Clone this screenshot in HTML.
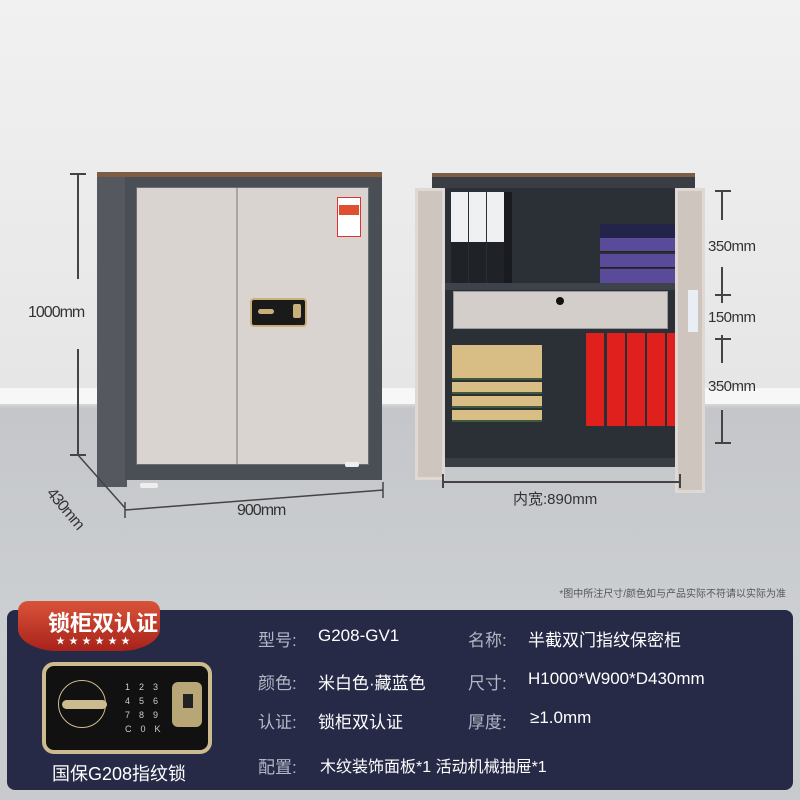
<!DOCTYPE html>
<html><head><meta charset="utf-8"><style>
*{margin:0;padding:0;box-sizing:border-box}
body{width:800px;height:800px;position:relative;overflow:hidden;font-family:"Liberation Sans","Noto Sans CJK SC",sans-serif;background:#c9cbce}
.a{position:absolute}
.t{position:absolute;white-space:nowrap}
</style></head><body>
<div class="a" style="left:0;top:0;width:800px;height:390px;background:linear-gradient(#f1f1f1,#e6e6e6)"></div>
<div class="a" style="left:0;top:388px;width:800px;height:18px;background:#f7f7f7;border-bottom:2px solid #d5d5d5"></div>
<div class="a" style="left:0;top:408px;width:800px;height:392px;background:linear-gradient(#c4c6c9,#cdd0d3 60%,#c8cacd)"></div>

<div class="a" style="left:97px;top:172px;width:285px;height:5px;background:#7d5d44"></div>
<div class="a" style="left:97px;top:177px;width:30px;height:310px;background:#55595f"></div>
<div class="a" style="left:125px;top:177px;width:257px;height:303px;background:#4a4e55"></div>
<div class="a" style="left:136px;top:187px;width:233px;height:278px;background:#d9d4cf;border:1px solid #6b6e72"></div>
<div class="a" style="left:236px;top:188px;width:2px;height:276px;background:#a9a5a0"></div>
<div class="a" style="left:337px;top:197px;width:24px;height:40px;background:#fff;border:1px solid #d33"></div>
<div class="a" style="left:339px;top:205px;width:20px;height:10px;background:#e05030"></div>
<div class="a" style="left:250px;top:298px;width:57px;height:29px;background:#1a1a1a;border:2px solid #c9b07a;border-radius:4px"></div>
<div class="a" style="left:258px;top:309px;width:16px;height:5px;background:#c9b07a;border-radius:3px"></div>
<div class="a" style="left:293px;top:304px;width:8px;height:14px;background:#c9b07a;border-radius:2px"></div>
<div class="a" style="left:140px;top:483px;width:18px;height:5px;background:#eee;border-radius:2px"></div>
<div class="a" style="left:345px;top:462px;width:14px;height:5px;background:#eee;border-radius:2px"></div>

<div class="a" style="left:77px;top:173px;width:2px;height:106px;background:#444"></div>
<div class="a" style="left:77px;top:349px;width:2px;height:106px;background:#444"></div>
<div class="a" style="left:70px;top:173px;width:16px;height:2px;background:#444"></div>
<div class="a" style="left:70px;top:454px;width:16px;height:2px;background:#444"></div>
<div class="t" style="left:28px;top:304px;font-size:16px;color:#333;letter-spacing:-1px">1000mm</div>
<svg class="a" style="left:0;top:0" width="800" height="800">
<line x1="78" y1="455" x2="125" y2="508" stroke="#444" stroke-width="1.5"/>
<line x1="125" y1="510" x2="383" y2="490" stroke="#444" stroke-width="1.5"/>
<line x1="125" y1="502" x2="125" y2="518" stroke="#444" stroke-width="1.5"/>
<line x1="383" y1="482" x2="383" y2="498" stroke="#444" stroke-width="1.5"/>
</svg>
<div class="t" style="left:237px;top:502px;font-size:16px;color:#333;letter-spacing:-1px">900mm</div>
<div class="t" style="left:56px;top:485px;font-size:16px;color:#333;transform:rotate(50deg);transform-origin:left top;letter-spacing:-1px">430mm</div>

<div class="a" style="left:432px;top:173px;width:263px;height:4px;background:#7d5d44"></div>
<div class="a" style="left:432px;top:177px;width:263px;height:290px;background:#3a3e44"></div>
<div class="a" style="left:445px;top:188px;width:230px;height:270px;background:#2b2f36"></div>
<div class="a" style="left:445px;top:283px;width:230px;height:7px;background:#3e434b"></div>
<div class="a" style="left:453px;top:291px;width:215px;height:38px;background:#d3ceca;border:1px solid #999"></div>
<div class="a" style="left:556px;top:297px;width:8px;height:8px;background:#111;border-radius:50%"></div>
<div class="a" style="left:451px;top:192px;width:17px;height:91px;background:#1f2227;border-top:50px solid #eef0f2"></div>
<div class="a" style="left:469px;top:192px;width:17px;height:91px;background:#1f2227;border-top:50px solid #eef0f2"></div>
<div class="a" style="left:487px;top:192px;width:17px;height:91px;background:#1f2227;border-top:50px solid #eef0f2"></div>
<div class="a" style="left:504px;top:192px;width:8px;height:91px;background:#191b20"></div>
<div class="a" style="left:600px;top:224px;width:75px;height:14px;background:#22244a"></div>
<div class="a" style="left:600px;top:238px;width:75px;height:14px;background:#5a4a9a;border-bottom:1px solid #222"></div>
<div class="a" style="left:600px;top:254px;width:75px;height:14px;background:#5a4a9a;border-bottom:1px solid #222"></div>
<div class="a" style="left:600px;top:269px;width:75px;height:14px;background:#5a4a9a"></div>
<div class="a" style="left:452px;top:345px;width:90px;height:23px;background:#d8bd85"></div>
<div class="a" style="left:452px;top:368px;width:90px;height:12px;background:#d8bd85;border-bottom:2px solid #3d5a3a"></div>
<div class="a" style="left:452px;top:382px;width:90px;height:12px;background:#d8bd85;border-bottom:2px solid #3d5a3a"></div>
<div class="a" style="left:452px;top:396px;width:90px;height:12px;background:#d8bd85;border-bottom:2px solid #3d5a3a"></div>
<div class="a" style="left:452px;top:410px;width:90px;height:12px;background:#d8bd85;border-bottom:2px solid #3d5a3a"></div>
<div class="a" style="left:586px;top:333px;width:18px;height:93px;background:#e0201c"></div>
<div class="a" style="left:607px;top:333px;width:18px;height:93px;background:#e0201c"></div>
<div class="a" style="left:627px;top:333px;width:18px;height:93px;background:#e0201c"></div>
<div class="a" style="left:647px;top:333px;width:18px;height:93px;background:#e0201c"></div>
<div class="a" style="left:667px;top:333px;width:8px;height:93px;background:#e0201c"></div>
<div class="a" style="left:415px;top:188px;width:30px;height:292px;background:#cfc5bf;border:3px solid #e0d8d2"></div>
<div class="a" style="left:675px;top:188px;width:30px;height:305px;background:#cfc5bf;border:3px solid #e0d8d2"></div>
<div class="a" style="left:688px;top:290px;width:10px;height:42px;background:#e8eef4"></div>
<div class="a" style="left:721px;top:190px;width:2px;height:30px;background:#444"></div>
<div class="a" style="left:715px;top:190px;width:16px;height:2px;background:#444"></div>
<div class="a" style="left:721px;top:267px;width:2px;height:36px;background:#444"></div>
<div class="a" style="left:715px;top:294px;width:16px;height:2px;background:#444"></div>
<div class="a" style="left:721px;top:335px;width:2px;height:28px;background:#444"></div>
<div class="a" style="left:715px;top:338px;width:16px;height:2px;background:#444"></div>
<div class="a" style="left:721px;top:410px;width:2px;height:33px;background:#444"></div>
<div class="a" style="left:715px;top:442px;width:16px;height:2px;background:#444"></div>
<div class="t" style="left:708px;top:238px;font-size:15px;color:#333;letter-spacing:-.5px">350mm</div>
<div class="t" style="left:708px;top:309px;font-size:15px;color:#333;letter-spacing:-.5px">150mm</div>
<div class="t" style="left:708px;top:378px;font-size:15px;color:#333;letter-spacing:-.5px">350mm</div>
<div class="a" style="left:443px;top:481px;width:237px;height:2px;background:#444"></div>
<div class="a" style="left:442px;top:474px;width:2px;height:14px;background:#444"></div>
<div class="a" style="left:679px;top:474px;width:2px;height:14px;background:#444"></div>
<div class="t" style="left:513px;top:488px;font-size:15px;color:#333">内宽:890mm</div>

<div class="t" style="right:14px;top:585px;font-size:10px;color:#555">*图中所注尺寸/颜色如与产品实际不符请以实际为准</div>

<div class="a" style="left:7px;top:610px;width:786px;height:180px;background:#262a46;border-radius:8px"></div>
<div class="a" style="left:18px;top:601px;width:142px;height:50px;background:linear-gradient(#d9533a,#a8221a);border-radius:10px 10px 40px 40px/10px 10px 22px 22px"></div>
<div class="t" style="left:48px;top:606px;font-size:22px;color:#fff;font-weight:bold">锁柜双认证</div>
<div class="t" style="left:56px;top:634px;font-size:9px;color:#fff;letter-spacing:4px">★★★★★★</div>
<div class="a" style="left:42px;top:662px;width:170px;height:92px;background:#111;border:4px solid #cdbb90;border-radius:12px"></div>
<div class="a" style="left:58px;top:680px;width:48px;height:48px;border:1.5px solid #cdbb90;border-radius:50%"></div>
<div class="a" style="left:62px;top:700px;width:45px;height:9px;background:#cdbb90;border-radius:5px"></div>
<div class="t" style="left:125px;top:680px;font-size:9px;color:#ccc;line-height:14px;letter-spacing:9px">123<br>456<br>789<br>C0K</div>
<div class="a" style="left:172px;top:682px;width:30px;height:45px;background:#b8a676;border-radius:6px"></div>
<div class="a" style="left:183px;top:694px;width:10px;height:14px;background:#222"></div>
<div class="t" style="left:52px;top:760px;font-size:18px;color:#fff">国保G208指纹锁</div>

<div class="t" style="left:258px;top:626px;font-size:17px;color:#b3b6c4">型号:</div>
<div class="t" style="left:318px;top:626px;font-size:17px;color:#fff">G208-GV1</div>
<div class="t" style="left:468px;top:626px;font-size:17px;color:#b3b6c4">名称:</div>
<div class="t" style="left:528px;top:626px;font-size:17px;color:#fff">半截双门指纹保密柜</div>
<div class="t" style="left:258px;top:669px;font-size:17px;color:#b3b6c4">颜色:</div>
<div class="t" style="left:318px;top:669px;font-size:17px;color:#fff">米白色·藏蓝色</div>
<div class="t" style="left:468px;top:669px;font-size:17px;color:#b3b6c4">尺寸:</div>
<div class="t" style="left:528px;top:669px;font-size:17px;color:#fff">H1000*W900*D430mm</div>
<div class="t" style="left:258px;top:708px;font-size:17px;color:#b3b6c4">认证:</div>
<div class="t" style="left:318px;top:708px;font-size:17px;color:#fff">锁柜双认证</div>
<div class="t" style="left:468px;top:708px;font-size:17px;color:#b3b6c4">厚度:</div>
<div class="t" style="left:530px;top:708px;font-size:17px;color:#fff">≥1.0mm</div>
<div class="t" style="left:258px;top:753px;font-size:17px;color:#b3b6c4">配置:</div>
<div class="t" style="left:320px;top:753px;font-size:16px;color:#fff">木纹装饰面板*1 活动机械抽屉*1</div>
</body></html>
